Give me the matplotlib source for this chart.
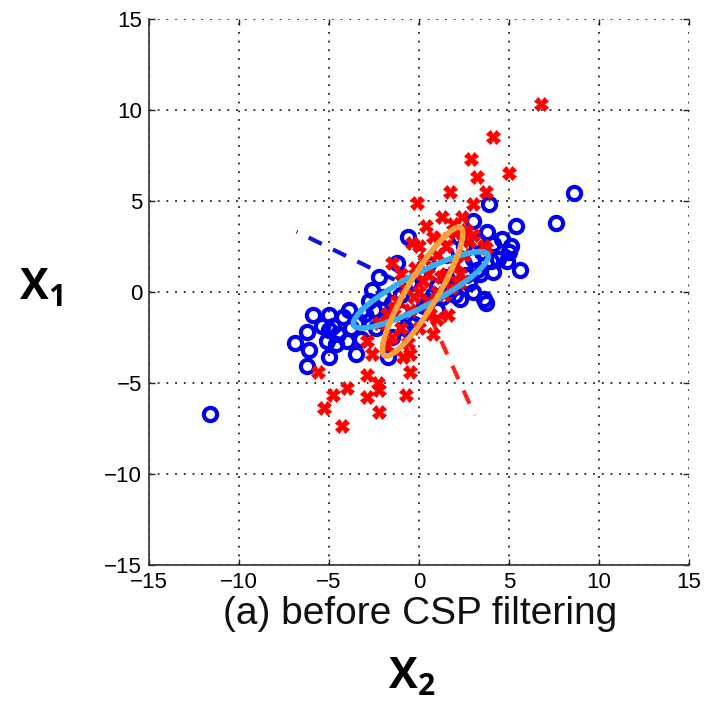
import matplotlib
matplotlib.use("Agg")
import matplotlib.pyplot as plt
from matplotlib.patches import Ellipse, Rectangle

# ---- data ----
blue_x = [-11.6, 8.6, 7.6, 5.4, 3.9, 3.0, 5.1, 5.0, 5.6, 4.1, 3.6, 4.9, 4.1, -0.6, -2.2, -2.6, -2.8,
          -5.9, -5.0, -6.9, -6.2, -6.1, -6.2, -5.0, -5.1, -5.4, -4.5, -4.2, -4.0, -3.5, -4.6, -1.7, -3.4,
          -3.0, -5.0, -3.8, -2.5, -2.0, -1.5, -1.0, -1.5, -0.8, 0.0, 0.5, 1.0, 1.5, 2.0, 2.5, 3.0, 3.5,
          2.0, 2.8, 3.2, 1.0, 2.3, 2.5, 3.3, 2.2, 0.0, -0.5, 0.5, 1.5, 3.7, -1.2, -2.4, -3.2, -2.0, 1.8,
          4.4, 3.4, -0.3, 0.8, -2.8, -3.9, -4.8, 4.6, 3.0, 2.6, 1.3, 0.3, -1.0, 4.0, 3.8]
blue_y = [-6.7, 5.4, 3.8, 3.6, 4.8, 3.9, 2.5, 2.2, 1.2, 1.1, -0.4, 1.7, 2.6, 3.0, 0.8, 0.1, -0.5,
          -1.3, -1.3, -2.8, -2.2, -3.2, -4.1, -3.6, -2.7, -1.9, -2.3, -1.4, -2.7, -3.4, -2.9, -3.6, -1.6,
          -1.2, -2.1, -2.0, -1.0, -1.6, -0.6, -1.1, -2.5, -2.0, -1.2, -0.5, 0.3, 0.8, 1.0, 1.5, 1.8, 2.2,
          -0.2, 0.5, 1.2, -1.0, -0.4, 2.5, 2.8, 3.0, 1.0, 0.5, 1.5, 2.0, -0.6, 1.6, -2.0, -2.6, -0.3, 0.2,
          1.8, 1.0, -1.8, -0.2, -1.6, -1.0, -1.9, 2.9, 0.0, 0.9, -0.3, -0.8, -0.2, 1.7, 3.3]

red_x = [6.8, 4.1, 2.9, 5.0, 3.2, 3.7, 3.0, 1.7, -0.1, 1.3, 2.4, 0.4, -0.4, -1.5, 3.0, 3.7,
         -5.6, -4.8, -5.3, -4.0, -4.3, -2.9, -2.6, -2.9, -2.3, -2.2, -2.9, -2.2, -0.5, -0.5, -0.7, 1.6,
         0.0, 0.5, 1.0, 1.5, -0.5, -1.0, -1.5, 0.5, 1.2, 2.0, 2.5, -0.8, 0.0, -1.8, -2.2, 0.8, 2.0,
         1.0, 2.2, -1.2, 0.3, -0.3, 1.5, 2.8, -1.0, 1.0, 0.0, -0.6, -1.8, 0.8, 3.6, 1.9, 2.6, -0.2,
         0.6, 1.8, 1.2, -1.4, -0.9, 2.3, 0.2, 1.4]
red_y = [10.3, 8.5, 7.3, 6.5, 6.3, 5.5, 4.8, 5.5, 4.9, 4.1, 4.1, 3.6, 2.7, 1.6, 3.1, 2.4,
         -4.4, -5.7, -6.4, -5.3, -7.4, -2.7, -3.4, -4.6, -5.0, -5.4, -5.8, -6.6, -3.4, -4.4, -5.7, -1.3,
         0.0, 1.0, 2.0, 2.5, -1.0, -2.0, -2.5, -0.5, 0.8, 1.5, 2.0, 0.2, -2.0, -1.2, -1.7, 3.0, 3.2,
         -1.5, 0.5, -0.5, 1.8, -0.3, 1.0, 2.8, 1.0, 0.0, 2.5, -2.8, -3.0, -2.3, 2.5, 3.7, 3.4, 1.3,
         -1.2, 0.2, 2.9, -0.9, -3.6, 1.0, 0.6, -0.2]

# covariance ellipses: center x, center y, full width, full height, angle (deg)
ell_blue = (0.1, 0.1, 8.4, 1.8, 27.5)
ell_orange = (0.2, 0.0, 8.2, 1.7, 59.0)

# spatial filter directions (end points of dashed lines from origin)
filt_blue_end = (-6.8, 3.3)
filt_red_end = (3.1, -6.8)

ticks = [-15, -10, -5, 0, 5, 10, 15]

plt.rcParams['font.family'] = ['Liberation Sans', 'DejaVu Sans']
plt.rcParams['mathtext.fontset'] = 'custom'
plt.rcParams['mathtext.bf'] = 'Open Sans:bold'
plt.rcParams['mathtext.rm'] = 'Open Sans'

fig = plt.figure(figsize=(7.06, 7.01), dpi=100)
ax = fig.add_axes([149/706, 1-564.7/701, 540/706, 546/701])

ax.plot([0, filt_blue_end[0]], [0, filt_blue_end[1]], color='#1010e0', lw=3.0,
        linestyle=(0, (3.5, 3)), zorder=2)
ax.plot([0, filt_red_end[0]], [0, filt_red_end[1]], color='#ff2020', lw=3.0,
        linestyle=(0, (3.5, 3)), zorder=2)

ax.plot(blue_x, blue_y, linestyle='none', marker='o', ms=9.5, mfc='none',
        mec='#0000ee', mew=3.0, zorder=3)
ax.plot(red_x, red_y, linestyle='none', marker='X', ms=10, mfc='#ff0000',
        mec='#ff0000', mew=0.5, zorder=4)

for (cx, cy, w, h, a), col in [(ell_blue, '#36aef0'), (ell_orange, '#f8a23a')]:
    ax.add_patch(Ellipse((cx, cy), w, h, angle=a, fill=False, edgecolor=col, lw=4.0, zorder=5))

ax.set_xlim(-15, 15)
ax.set_ylim(-15, 15)
ax.set_xticks(ticks)
ax.set_yticks(ticks)
ax.grid(True, color='black', linestyle=(0, (1.2, 4.5)), lw=1.1)
for s in ['top', 'right']:
    ax.spines[s].set_visible(False)
for s in ['left', 'bottom']:
    ax.spines[s].set_color('#333333')
    ax.spines[s].set_linewidth(1.2)
ax.tick_params(direction='in', top=True, right=True, length=4, width=1,
               labelsize=16, pad=5, colors='#222222')
ax.tick_params(axis='both', labelcolor='black')

fig.text(420/706, 1-614/701, '(a) before CSP filtering', ha='center', va='center',
         fontsize=28, color='#111111')
fig.patches.append(Rectangle((0, 0), 1, 1-637/701, transform=fig.transFigure,
                             facecolor='white', edgecolor='none', zorder=10))

fig.text(41/706, 1-288/701, r'$\mathbf{X_1}$', ha='center', va='center', fontsize=31, zorder=11)
fig.text(412/706, 1-677/701, r'$\mathbf{X_2}$', ha='center', va='center', fontsize=31, zorder=11)

fig.savefig('out.png', dpi=100)
